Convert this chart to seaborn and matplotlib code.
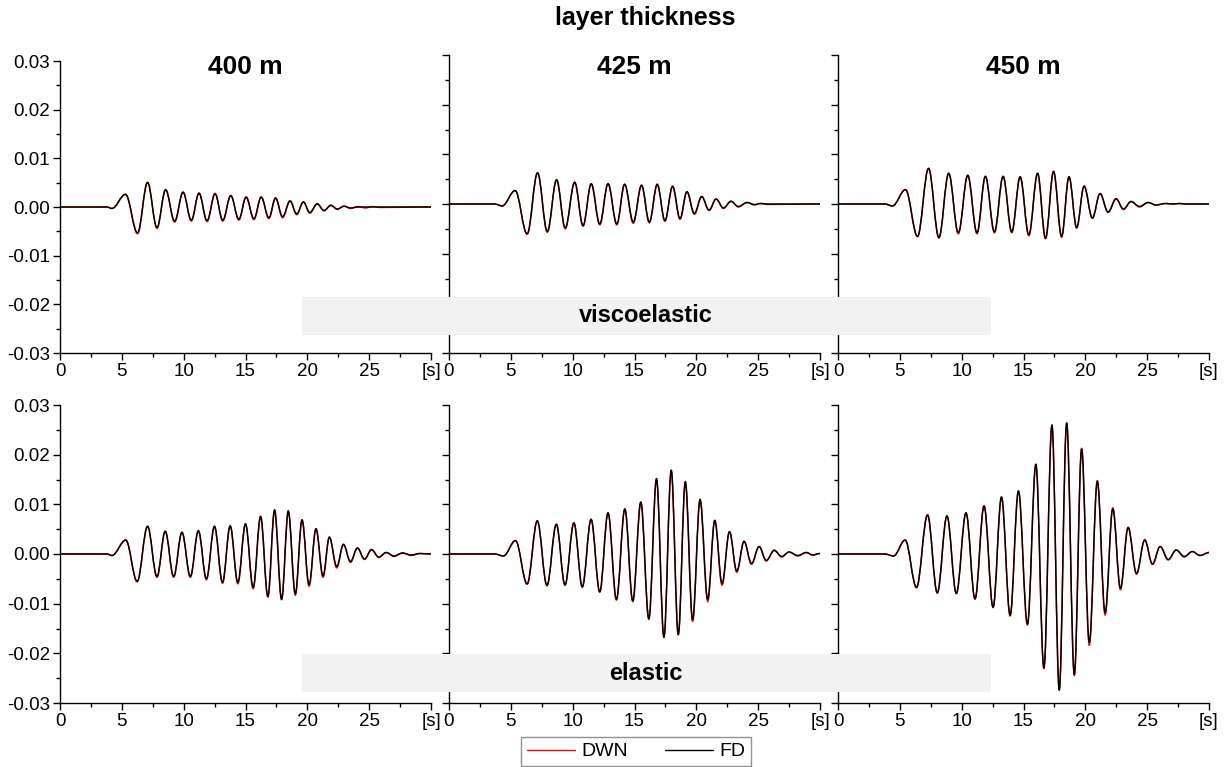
import matplotlib
matplotlib.use("Agg")
import matplotlib.pyplot as plt
from matplotlib.patches import Rectangle, PathPatch
from matplotlib.path import Path
from matplotlib.lines import Line2D
import numpy as np
import seaborn as sns

# ---------------- data: waveform extrema (time [s], amplitude) ----------------
# viscoelastic, 400 m
t_ve400 = [0, 3.8, 4.2, 5.3, 6.27, 7.08, 7.84, 8.54, 9.27, 9.95, 10.62, 11.24, 11.89, 12.54,
           13.16, 13.81, 14.46, 15.05, 15.68, 16.27, 16.89, 17.43, 18.0, 18.6, 19.14, 19.68,
           20.2, 20.8, 21.35, 21.9, 22.43, 22.97, 23.5, 24.1, 24.7, 25.3, 25.9, 30]
fd_ve400 = [0, 0, -0.0003, 0.0026, -0.0053, 0.0050, -0.0042, 0.0035, -0.0029, 0.0030, -0.0027,
            0.0028, -0.0028, 0.0027, -0.0027, 0.0023, -0.0025, 0.0020, -0.0024, 0.0020, -0.0022,
            0.0018, -0.0020, 0.0012, -0.0014, 0.0010, -0.0011, 0.0006, -0.0007, 0.0003, -0.0004,
            0.00014, -0.0002, 0, 0, 0, 0, 0]
dwn_ve400 = [0, 0, -0.0003, 0.0026, -0.0055, 0.0051, -0.0044, 0.0036, -0.0031, 0.0031, -0.0029,
             0.0029, -0.0030, 0.0028, -0.0029, 0.0024, -0.0027, 0.0021, -0.0026, 0.0021, -0.0024,
             0.0019, -0.0022, 0.0013, -0.0016, 0.0011, -0.0013, 0.0007, -0.0008, 0.0004, -0.0005,
             0.0002, -0.0003, 0.0001, -0.0002, 0.0001, -0.0001, 0]

# viscoelastic, 425 m
t_ve425 = [0, 3.7, 4.3, 5.35, 6.32, 7.16, 7.95, 8.7, 9.4, 10.16, 10.84, 11.5, 12.19, 12.86, 13.57,
           14.2, 14.9, 15.57, 16.2, 16.84, 17.46, 18.08, 18.68, 19.24, 19.84, 20.43, 21.03, 21.6,
           22.19, 22.8, 23.4, 24.1, 24.7, 25.2, 25.8, 30]
fd_ve425 = [0, 0, -0.0004, 0.0027, -0.0060, 0.0063, -0.0055, 0.0049, -0.0048, 0.0044, -0.0043,
            0.0041, -0.0040, 0.0041, -0.0040, 0.0040, -0.0036, 0.0038, -0.0036, 0.0040, -0.0033,
            0.0036, -0.0029, 0.0025, -0.0019, 0.0015, -0.0012, 0.0010, -0.0008, 0.0005, -0.0005,
            0.0003, -0.0001, 0.0001, 0, 0]
dwn_ve425 = [0, 0, -0.0004, 0.0027, -0.0061, 0.0062, -0.0057, 0.0048, -0.0050, 0.0043, -0.0045,
             0.0040, -0.0042, 0.0040, -0.0042, 0.0039, -0.0039, 0.0037, -0.0038, 0.0038, -0.0035,
             0.0035, -0.0031, 0.0024, -0.0021, 0.0015, -0.0013, 0.0010, -0.0009, 0.0006, -0.0006,
             0.0003, -0.0002, 0.0001, -0.0001, 0]

# viscoelastic, 450 m
t_ve450 = [0, 3.8, 4.4, 5.46, 6.43, 7.32, 8.16, 8.95, 9.73, 10.49, 11.24, 11.92, 12.65, 13.35,
           14.05, 14.73, 15.43, 16.14, 16.78, 17.43, 18.08, 18.68, 19.3, 19.9, 20.57, 21.19, 21.84,
           22.49, 23.08, 23.7, 24.38, 25.08, 25.7, 26.5, 27.1, 27.6, 28.1, 30]
fd_ve450 = [0, 0, -0.0004, 0.0029, -0.0065, 0.0072, -0.0067, 0.0062, -0.0058, 0.0058, -0.0058,
            0.0056, -0.0056, 0.0056, -0.0056, 0.0055, -0.0062, 0.0062, -0.0069, 0.0066, -0.0065,
            0.0055, -0.0047, 0.0036, -0.0028, 0.0021, -0.0016, 0.0010, -0.0010, 0.0005, -0.0005,
            0.0003, -0.0002, 0.0001, 0, 0.0001, 0, 0]
dwn_ve450 = [0, 0, -0.0004, 0.0029, -0.0066, 0.0071, -0.0069, 0.0061, -0.0060, 0.0057, -0.0060,
             0.0055, -0.0058, 0.0055, -0.0058, 0.0054, -0.0064, 0.0061, -0.0070, 0.0065, -0.0067,
             0.0054, -0.0049, 0.0036, -0.0029, 0.0021, -0.0017, 0.0011, -0.0011, 0.0005, -0.0006,
             0.0003, -0.0002, 0.0001, 0, 0.0001, 0, 0]

# elastic, 400 m
t_el400 = [0, 3.8, 4.2, 5.32, 6.24, 7.08, 7.84, 8.51, 9.19, 9.86, 10.54, 11.19, 11.84, 12.49, 13.14,
           13.76, 14.38, 15.0, 15.62, 16.22, 16.81, 17.35, 17.92, 18.46, 19.03, 19.57, 20.14, 20.7,
           21.27, 21.78, 22.38, 22.92, 23.49, 24.05, 24.62, 25.19, 25.78, 26.38, 27.0, 27.7, 28.4,
           29.1, 30]
fd_el400 = [0, 0, -0.0003, 0.0028, -0.0055, 0.0056, -0.0045, 0.0046, -0.0045, 0.0044, -0.0045,
            0.0047, -0.0050, 0.0056, -0.0057, 0.0057, -0.0057, 0.0061, -0.0067, 0.0076, -0.0085,
            0.0089, -0.0092, 0.0087, -0.0080, 0.0069, -0.0062, 0.0051, -0.0044, 0.0034, -0.0025,
            0.0019, -0.0015, 0.0012, -0.0010, 0.0009, -0.0006, 0.0003, -0.0004, 0.0002, -0.0002,
            0.0001, 0]
dwn_el400 = [0, 0, -0.0003, 0.0028, -0.0056, 0.0055, -0.0047, 0.0045, -0.0047, 0.0043, -0.0047,
             0.0046, -0.0052, 0.0055, -0.0059, 0.0056, -0.0060, 0.0060, -0.0070, 0.0074, -0.0087,
             0.0086, -0.0090, 0.0084, -0.0083, 0.0068, -0.0065, 0.0050, -0.0047, 0.0034, -0.0028,
             0.0020, -0.0017, 0.0012, -0.0011, 0.0008, -0.0007, 0.0003, -0.0005, 0.0002, -0.0003,
             0.0001, 0]

# elastic, 425 m
t_el425 = [0, 3.7, 4.4, 5.38, 6.32, 7.14, 7.92, 8.68, 9.38, 10.1, 10.78, 11.49, 12.19, 12.86, 13.54,
           14.22, 14.86, 15.51, 16.16, 16.78, 17.38, 17.97, 18.54, 19.11, 19.7, 20.3, 20.92, 21.49,
           22.08, 22.68, 23.27, 23.86, 24.46, 25.08, 25.65, 26.3, 26.9, 27.5, 28.2, 28.9, 29.4, 30]
fd_el425 = [0, 0, -0.0004, 0.0027, -0.0060, 0.0067, -0.0063, 0.0060, -0.0062, 0.0063, -0.0066,
            0.0070, -0.0076, 0.0083, -0.0091, 0.0091, -0.0094, 0.0105, -0.0130, 0.0152, -0.0168,
            0.0169, -0.0162, 0.0146, -0.0132, 0.0110, -0.0091, 0.0068, -0.0059, 0.0045, -0.0034,
            0.0025, -0.0019, 0.0015, -0.0013, 0.0007, -0.0005, 0.0004, -0.0003, 0.0003, -0.0002,
            0.0001]
dwn_el425 = [0, 0, -0.0004, 0.0027, -0.0061, 0.0066, -0.0064, 0.0059, -0.0063, 0.0062, -0.0067,
             0.0069, -0.0077, 0.0082, -0.0093, 0.0090, -0.0096, 0.0103, -0.0132, 0.0150, -0.0166,
             0.0166, -0.0163, 0.0143, -0.0136, 0.0108, -0.0096, 0.0067, -0.0063, 0.0045, -0.0037,
             0.0026, -0.0021, 0.0015, -0.0014, 0.0008, -0.0006, 0.0004, -0.0004, 0.0003, -0.0002,
             0.0001]

# elastic, 450 m
t_el450 = [0, 3.8, 4.49, 5.43, 6.35, 7.24, 8.03, 8.81, 9.57, 10.35, 11.08, 11.81, 12.54, 13.22,
           13.92, 14.59, 15.32, 16.0, 16.65, 17.3, 17.89, 18.49, 19.11, 19.7, 20.32, 20.97, 21.6,
           22.22, 22.84, 23.46, 24.14, 24.8, 25.43, 26.05, 26.7, 27.35, 28.0, 28.65, 29.27, 30]
fd_el450 = [0, 0, -0.0004, 0.0028, -0.0067, 0.0079, -0.0078, 0.0077, -0.0079, 0.0083, -0.0090,
            0.0097, -0.0107, 0.0115, -0.0123, 0.0127, -0.0141, 0.0181, -0.0229, 0.0260, -0.0274,
            0.0264, -0.0242, 0.0211, -0.0178, 0.0146, -0.0118, 0.0091, -0.0069, 0.0053, -0.0039,
            0.0028, -0.0020, 0.0015, -0.0011, 0.0008, -0.0005, 0.0005, -0.0003, 0.0003]
dwn_el450 = [0, 0, -0.0004, 0.0028, -0.0068, 0.0078, -0.0079, 0.0076, -0.0080, 0.0082, -0.0091,
             0.0096, -0.0108, 0.0114, -0.0125, 0.0127, -0.0143, 0.0179, -0.0231, 0.0258, -0.0272,
             0.0263, -0.0245, 0.0213, -0.0184, 0.0148, -0.0123, 0.0093, -0.0072, 0.0054, -0.0041,
             0.0029, -0.0021, 0.0015, -0.0012, 0.0008, -0.0006, 0.0005, -0.0003, 0.0003]

thickness_labels = ["400 m", "425 m", "450 m"]
model_labels = ["viscoelastic", "elastic"]
series_names = ["DWN", "FD"]
x_ticks = [0, 5, 10, 15, 20, 25, 30]
x_tick_labels = ["0", "5", "10", "15", "20", "25", "[s]"]
y_ticks = [-0.03, -0.02, -0.01, 0.0, 0.01, 0.02, 0.03]
y_tick_labels = ["-0.03", "-0.02", "-0.01", "0.00", "0.01", "0.02", "0.03"]

panels = [
    [(t_ve400, dwn_ve400, fd_ve400), (t_ve425, dwn_ve425, fd_ve425), (t_ve450, dwn_ve450, fd_ve450)],
    [(t_el400, dwn_el400, fd_el400), (t_el425, dwn_el425, fd_el425), (t_el450, dwn_el450, fd_el450)],
]

# ---------------- style ----------------
sns.set_style("ticks")
plt.rcParams["font.family"] = ["Liberation Sans", "DejaVu Sans"]
plt.rcParams["text.color"] = "black"
plt.rcParams["xtick.color"] = "black"
plt.rcParams["ytick.color"] = "black"
plt.rcParams["axes.edgecolor"] = "black"
plt.rcParams["axes.linewidth"] = 1.0
plt.rcParams["xtick.direction"] = "out"
plt.rcParams["ytick.direction"] = "out"

palette = dict(zip(series_names, ["#ff0000", "#000000"]))

# Fraction of each segment used for the Bezier handles: with horizontal tangents at
# every turning point this gives a half-cosine shaped swing between extrema.
HANDLE = 1 - 2 / np.pi


def smooth_trace(ax, t, a, color, lw, z):
    """Draw a trace through its turning points as a chain of cubic Bezier swings."""
    verts = [(t[0], a[0])]
    codes = [Path.MOVETO]
    for i in range(1, len(t)):
        dt = t[i] - t[i - 1]
        verts += [(t[i - 1] + HANDLE * dt, a[i - 1]), (t[i] - HANDLE * dt, a[i]), (t[i], a[i])]
        codes += [Path.CURVE4] * 3
    ax.add_patch(PathPatch(Path(verts, codes), facecolor="none", edgecolor=color,
                           lw=lw, zorder=z, capstyle="round", joinstyle="round"))


W, H = 1229, 767
fig = plt.figure(figsize=(W / 100, H / 100), dpi=100)

# pixel frames of each panel: (left, top, width, height)
frames = [
    [(60, 61, 371, 292), (449, 55, 371, 298), (838, 55, 371, 298)],
    [(60, 405, 371, 298), (449, 405, 371, 298), (838, 405, 371, 298)],
]

for r in range(2):
    for c in range(3):
        lx, ty, wx, hy = frames[r][c]
        ax = fig.add_axes([lx / W, 1 - (ty + hy) / H, wx / W, hy / H])
        t, dwn, fd = panels[r][c]
        smooth_trace(ax, t, dwn, palette["DWN"], 1.05, 2)
        smooth_trace(ax, t, fd, palette["FD"], 1.05, 3)
        ax.set_xlim(0, 30)
        ax.set_ylim(-0.03, 0.03)
        ax.set_xlabel("")
        ax.set_ylabel("")
        sns.despine(ax=ax)
        ax.set_xticks(x_ticks)
        ax.set_xticklabels(x_tick_labels, fontsize=13.5)
        ax.set_xticks(np.arange(2.5, 30, 5), minor=True)
        ax.set_yticks(y_ticks)
        if c == 0:
            ax.set_yticklabels(y_tick_labels, fontsize=13.5)
        else:
            ax.set_yticklabels([])
        ax.set_yticks(np.arange(-0.025, 0.03, 0.01), minor=True)
        ax.tick_params(which="major", length=5, width=1.0, color="black", pad=2)
        ax.tick_params(which="minor", length=3, width=1.0, color="black")
        ax.patch.set_alpha(0)
        if r == 0:
            fig.text((lx + wx / 2) / W, 1 - 67 / H, thickness_labels[c],
                     ha="center", va="center", fontsize=19, fontweight="bold")

# overall title
fig.text(645 / W, 1 - 18 / H, "layer thickness", ha="center", va="center",
         fontsize=18, fontweight="bold")

# grey model banners spanning the panels
for top_px, label in zip([297, 654], model_labels):
    rect = Rectangle((302 / W, 1 - (top_px + 38) / H), (991 - 302) / W, 38 / H,
                     transform=fig.transFigure, facecolor="#f2f2f2", edgecolor="none", zorder=20)
    fig.add_artist(rect)
    fig.text(646 / W, 1 - (top_px + 19) / H, label, ha="center", va="center",
             fontsize=17, fontweight="bold", zorder=21)

# legend
handles = [Line2D([0], [0], color=palette[n], lw=1.0) for n in series_names]
leg = fig.legend(handles, series_names, loc="upper center", bbox_to_anchor=(636 / W, 1 - 737 / H),
                 ncol=2, frameon=True, fancybox=False, edgecolor="#777777", fontsize=14,
                 handlelength=2.5, handletextpad=0.3, columnspacing=1.9, borderaxespad=0,
                 borderpad=0.3)
leg.get_frame().set_linewidth(1.0)

fig.savefig("out.png", dpi=100, facecolor="white")
